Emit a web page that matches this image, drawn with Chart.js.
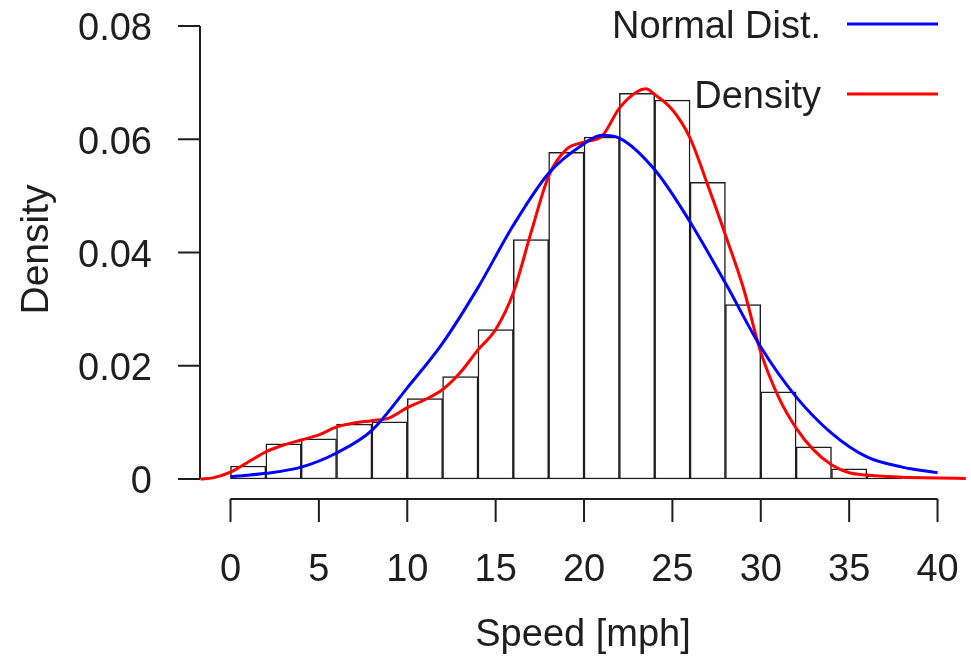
<!DOCTYPE html>
<html>
<head>
<meta charset="utf-8">
<script src="https://cdn.jsdelivr.net/npm/chart.js"></script>
<style>
  html, body { margin: 0; padding: 0; background: #fff; }
  #wrap { width: 971px; height: 656px; }
</style>
</head>
<body>
<div id="wrap"><canvas id="speedHist" width="971" height="656"></canvas></div>
<script>
// histogram bins (2 mph wide) and their density
const binStarts = [0, 2, 4, 6, 8, 10, 12, 14, 16, 18, 20, 22, 24, 26, 28, 30, 32, 34, 36];
const binDensity = [0.0023, 0.0062, 0.0071, 0.0097, 0.0101, 0.0142, 0.0181, 0.0264, 0.0423, 0.0577,
                    0.0604, 0.0681, 0.0669, 0.0524, 0.0308, 0.0154, 0.0057, 0.0018, 0.0005];

// fitted normal curve
const normX = [0, 2, 4, 6, 8, 10, 12, 14, 16, 18, 20, 21, 22, 24, 26, 28, 30, 32, 34, 36, 38, 40];
const normY = [0.0004, 0.001, 0.0021, 0.0046, 0.0086, 0.0161, 0.0240, 0.0338, 0.0448, 0.054, 0.0592,
               0.0607, 0.0602, 0.0546, 0.0454, 0.0346, 0.0233, 0.0145, 0.0081, 0.0039, 0.0021, 0.0011];

// kernel density estimate
const kdeX = [-1.7, -1, 0, 1, 2, 3, 4, 5, 6, 7, 8, 9, 10, 11, 12, 13, 14, 15, 16, 17, 18, 19, 20, 21,
              22, 23, 23.5, 24, 25, 26, 27, 28, 29, 30, 31, 32, 33, 34, 35, 36, 38, 40, 41.6];
const kdeY = [0, 0.0002, 0.0012, 0.003, 0.0048, 0.006, 0.0069, 0.0078, 0.0092, 0.0099, 0.0103, 0.0108,
              0.0126, 0.014, 0.0158, 0.0188, 0.0228, 0.0264, 0.0329, 0.0435, 0.0535, 0.0582, 0.0595, 0.0605,
              0.0655, 0.0684, 0.0689, 0.0679, 0.0652, 0.0602, 0.0519, 0.0431, 0.0339, 0.0224, 0.0145,
              0.009, 0.0051, 0.0025, 0.0011, 0.0007, 0.0003, 0.0002, 0.0001];

const xTicks = [0, 5, 10, 15, 20, 25, 30, 35, 40];
const yTicks = [0, 0.02, 0.04, 0.06, 0.08];

const FONT = 'Liberation Sans, Arial, sans-serif';
const INK = '#1e1e1e';

// R style axes: line only between first and last tick, offset x axis
const rAxes = {
  id: 'rAxes',
  beforeDatasetsDraw(chart) {
    const { ctx, scales: { x, y }, chartArea } = chart;
    ctx.save();
    ctx.strokeStyle = INK;
    ctx.lineWidth = 2;
    ctx.lineCap = 'butt';
    // y axis
    const ax = chartArea.left;
    ctx.beginPath();
    ctx.moveTo(ax, y.getPixelForValue(yTicks[0]));
    ctx.lineTo(ax, y.getPixelForValue(yTicks[yTicks.length - 1]));
    yTicks.forEach(v => {
      const py = y.getPixelForValue(v);
      ctx.moveTo(ax - 22, py);
      ctx.lineTo(ax, py);
    });
    // x axis
    const ay = chartArea.bottom;
    ctx.moveTo(x.getPixelForValue(xTicks[0]), ay);
    ctx.lineTo(x.getPixelForValue(xTicks[xTicks.length - 1]), ay);
    xTicks.forEach(v => {
      const px = x.getPixelForValue(v);
      ctx.moveTo(px, ay);
      ctx.lineTo(px, ay + 23);
    });
    ctx.stroke();
    ctx.restore();
  }
};

// legend: text on the left, line sample on the right
const rLegend = {
  id: 'rLegend',
  afterDatasetsDraw(chart) {
    const { ctx } = chart;
    const items = [chart.data.datasets[1], chart.data.datasets[2]];
    const rows = [24, 94];
    ctx.save();
    ctx.font = '38px ' + FONT;
    ctx.textAlign = 'right';
    ctx.textBaseline = 'middle';
    items.forEach((ds, i) => {
      ctx.fillStyle = INK;
      ctx.fillText(ds.label, 821, rows[i] + 4);
      ctx.strokeStyle = ds.borderColor;
      ctx.lineWidth = 3;
      ctx.beginPath();
      ctx.moveTo(847, rows[i]);
      ctx.lineTo(938, rows[i]);
      ctx.stroke();
    });
    ctx.restore();
  }
};

// keep tick label padding from shrinking the plot area
const noEdgePadding = scale => {
  scale.paddingLeft = 0;
  scale.paddingRight = 0;
  scale.paddingTop = 0;
  scale.paddingBottom = 0;
};

const ctx = document.getElementById('speedHist').getContext('2d');

const speedChart = new Chart(ctx, {
  type: 'bar',
  data: {
    datasets: [
      {
        type: 'bar',
        label: 'Histogram',
        data: binStarts.map((s, i) => ({ x: s + 1, y: binDensity[i] })),
        backgroundColor: '#ffffff',
        borderColor: INK,
        borderWidth: 1.5,
        borderSkipped: false,
        barPercentage: 1,
        categoryPercentage: 1,
        order: 3
      },
      {
        type: 'line',
        label: 'Normal Dist.',
        data: normX.map((v, i) => ({ x: v, y: normY[i] })),
        borderColor: '#0000ff',
        borderWidth: 3,
        pointRadius: 0,
        cubicInterpolationMode: 'monotone',
        order: 1
      },
      {
        type: 'line',
        label: 'Density',
        data: kdeX.map((v, i) => ({ x: v, y: kdeY[i] })),
        borderColor: '#ff0000',
        borderWidth: 3,
        pointRadius: 0,
        cubicInterpolationMode: 'monotone',
        order: 2
      }
    ]
  },
  options: {
    responsive: false,
    animation: false,
    devicePixelRatio: 1,
    layout: { padding: { left: 0, right: 5, top: 0, bottom: 0 } },
    plugins: {
      legend: { display: false },
      tooltip: { enabled: false }
    },
    scales: {
      x: {
        type: 'linear',
        min: -1.726,
        max: 41.61,
        offset: false,
        grid: { display: false, drawTicks: false, tickLength: 0 },
        border: { display: false },
        afterBuildTicks: scale => { scale.ticks = xTicks.map(v => ({ value: v })); },
        afterFit: scale => { scale.height = 157; noEdgePadding(scale); },
        ticks: {
          autoSkip: false,
          maxRotation: 0,
          padding: 49,
          color: INK,
          font: { family: FONT, size: 38 },
          callback: v => String(v)
        },
        title: {
          display: true,
          text: 'Speed [mph]',
          color: INK,
          font: { family: FONT, size: 38 },
          padding: { top: 0, bottom: -2 }
        }
      },
      y: {
        type: 'linear',
        min: -0.00353,
        max: 0.08459,
        grid: { display: false, drawTicks: false, tickLength: 0 },
        border: { display: false },
        afterBuildTicks: scale => { scale.ticks = yTicks.map(v => ({ value: v })); },
        afterFit: scale => { scale.width = 200; noEdgePadding(scale); },
        ticks: {
          padding: 48,
          labelOffset: 4,
          color: INK,
          font: { family: FONT, size: 38 },
          callback: v => (v === 0 ? '0' : v.toFixed(2))
        },
        title: {
          display: true,
          text: 'Density',
          color: INK,
          font: { family: FONT, size: 39 },
          padding: { top: 14, bottom: 0 }
        }
      }
    }
  },
  plugins: [rAxes, rLegend]
});
</script>
</body>
</html>
